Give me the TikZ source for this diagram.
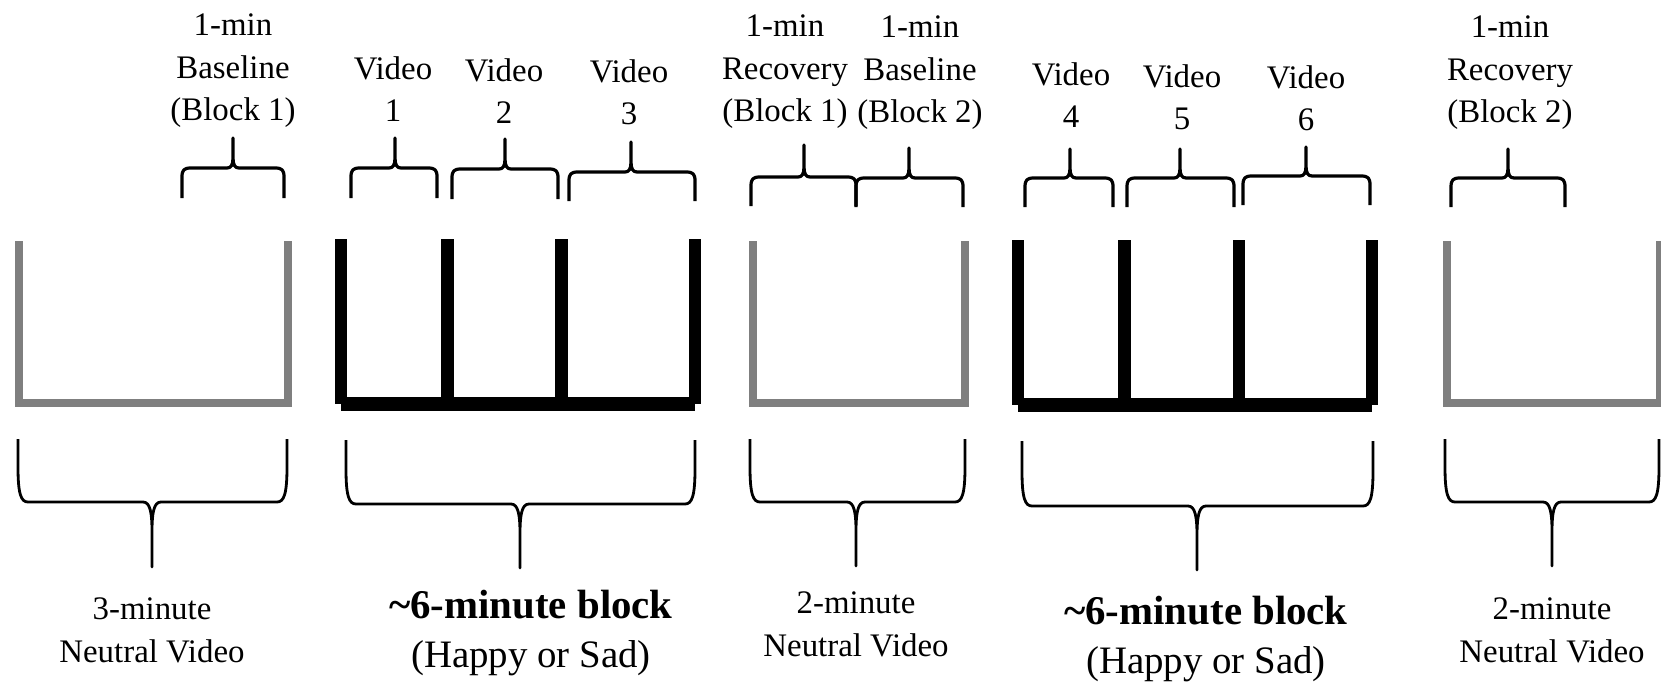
\documentclass[tikz,border=0pt]{standalone}
\usepackage{fontspec}
\setmainfont{Liberation Serif}
\definecolor{neutralgray}{HTML}{7F7F7F}

% upper brace, tip pointing up:  L, R, M(tip), h(bar), top(tip end), bot(arm ends)
\newcommand\topbrace[6]{%
  \draw[upbr] (#1,#6) -- (#1,{#4+9}) .. controls (#1,{#4+2}) and ({#1+2},#4) .. ({#1+9},#4)
    -- ({#3-6},#4) .. controls ({#3-2},#4) and (#3,{#4-3}) .. (#3,{#4-10}) -- (#3,#5)
    -- (#3,{#4-10}) .. controls (#3,{#4-3}) and ({#3+2},#4) .. ({#3+6},#4)
    -- ({#2-9},#4) .. controls ({#2-2},#4) and (#2,{#4+2}) .. (#2,{#4+9}) -- (#2,#6);}
% lower brace, tip pointing down:  L, R, M(tip), top(arm ends), h(bar), tip(end)
\newcommand\lowbrace[6]{%
  \draw[lowbr] (#1,#4) -- (#1,{#5-35}) .. controls (#1,{#5-8}) and ({#1+3},#5) .. ({#1+10},#5)
    -- ({#3-9},#5) .. controls ({#3-2},#5) and (#3,{#5+10}) .. (#3,{#5+30}) -- (#3,#6)
    -- (#3,{#5+30}) .. controls (#3,{#5+10}) and ({#3+2},#5) .. ({#3+9},#5)
    -- ({#2-10},#5) .. controls ({#2-3},#5) and (#2,{#5-8}) .. (#2,{#5-35}) -- (#2,#4);}

\begin{document}
\begin{tikzpicture}[x=1bp,y=-1bp,
  neutral/.style={draw=neutralgray, line width=7.5bp, line join=miter},
  emotion/.style={draw=black, line width=12.5bp},
  emobase/.style={draw=black, line width=14bp},
  upbr/.style={draw=black, line width=3.2bp, line join=round},
  lowbr/.style={draw=black, line width=2.8bp, line join=round},
  lbl/.style={font=\fontsize{33}{43}\selectfont, align=center, inner sep=0pt, anchor=base},
  blk/.style={font=\fontsize{39}{49}\selectfont, align=center, inner sep=0pt, anchor=base},
]
\useasboundingbox (0,0) rectangle (1661,693);

% neutral video segments
\draw[neutral] (19,241) -- (19,403) -- (288,403) -- (288,241);
\draw[neutral] (753,241) -- (753,403) -- (965,403) -- (965,241);
\draw[neutral] (1447,241) -- (1447,403) -- (1659.5,403) -- (1659.5,241);

% emotion blocks
\foreach \x in {341,447.5,561.5,695} \draw[emotion] (\x,239) -- (\x,404);
\draw[emobase] (341,404) -- (695,404);
\foreach \x in {1018,1124.5,1239,1372} \draw[emotion] (\x,240) -- (\x,405);
\draw[emobase] (1018,405) -- (1372,405);

% upper braces
\topbrace{182}{284}{233}{168}{138}{198}
\topbrace{351}{437}{395}{168}{138}{198}
\topbrace{452}{558}{505}{169}{139}{199}
\topbrace{569}{695}{631}{172}{142}{201}
\topbrace{751}{856}{804}{177}{145}{206}
\topbrace{856}{963}{909}{178}{148}{207}
\topbrace{1025}{1113}{1070}{178}{149}{207}
\topbrace{1127}{1234}{1180}{178}{149}{207}
\topbrace{1243}{1370}{1306}{176}{147}{205}
\topbrace{1451}{1565}{1508}{178}{149}{207}

% lower braces
\lowbrace{18}{287}{152}{439}{502}{567}
\lowbrace{346}{695}{520}{440}{504}{568}
\lowbrace{750}{965}{856}{439}{502}{566}
\lowbrace{1022}{1373}{1197}{441}{506}{570}
\lowbrace{1445}{1659}{1552}{439}{502}{566}

% upper labels (anchored at the baseline of the last line)
\node[lbl] (bl1) at (233,121) {1-min\\Baseline\\(Block 1)};
\node[lbl] (v1) at (393,122) {Video\\1};
\node[lbl] (v2) at (504,124) {Video\\2};
\node[lbl] (v3) at (629,125) {Video\\3};
\node[lbl] (rc1) at (785,122) {1-min\\Recovery\\(Block 1)};
\node[lbl] (bl2) at (920,123) {1-min\\Baseline\\(Block 2)};
\node[lbl] (v4) at (1071,128) {Video\\4};
\node[lbl] (v5) at (1182,130) {Video\\5};
\node[lbl] (v6) at (1306,131) {Video\\6};
\node[lbl] (rc2) at (1510,123) {1-min\\Recovery\\(Block 2)};

% lower labels
\node[lbl] (n1) at (152,662) {3-minute\\Neutral Video};
\node[blk] (e1) at (531,667) {{\fontsize{41}{49}\selectfont\bfseries\textasciitilde 6-minute block}\\(Happy or Sad)};
\node[lbl] (n2) at (856,656) {2-minute\\Neutral Video};
\node[blk] (e2) at (1206,673) {{\fontsize{41}{49}\selectfont\bfseries\textasciitilde 6-minute block}\\(Happy or Sad)};
\node[lbl] (n3) at (1552,662) {2-minute\\Neutral Video};
\end{tikzpicture}
\end{document}
